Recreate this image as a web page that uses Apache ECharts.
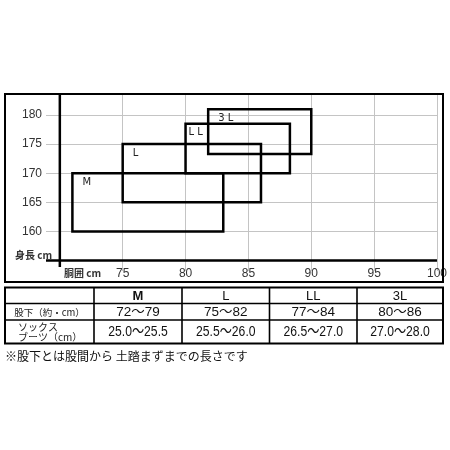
<!DOCTYPE html>
<html><head><meta charset="utf-8">
<script src="https://cdn.jsdelivr.net/npm/echarts@6/dist/echarts.min.js"></script>
<style>html,body{margin:0;padding:0;background:#fff}#c{width:450px;height:450px}</style>
</head><body><div id="c"></div>
<script>
// ---- data ----
const sizes = ['M', 'L', 'LL', '3L'];
const rectLabels = ['M', 'L', 'L L', '3 L'];
const waistMin = [71, 75, 80, 81.8];
const waistMax = [83, 86, 88.3, 90];
const heightMin = [160, 165, 170, 173.3];
const heightMax = [170, 175, 178.5, 181];
const xTicks = [75, 80, 85, 90, 95, 100];
const yTicks = [160, 165, 170, 175, 180];
const rowLabels = ['股下（約・cm）', 'ソックス\nブーツ（cm）'];
const inseam = ['72〜79', '75〜82', '77〜84', '80〜86'];
const socks = ['25.0〜25.5', '25.5〜26.0', '26.5〜27.0', '27.0〜28.0'];
const note = '※股下とは股間から 土踏まずまでの長さです';
const xAxisName = '胴囲 cm';
const yAxisName = '身長 cm';
// axis extents
const xMin = 68.9, xMax = 100, xOrigin = 70;
const yMin = 153.9, yMax = 183.55, yOrigin = 155;

const chart = echarts.init(document.getElementById('c'));
const rectData = sizes.map((s, i) => [waistMin[i], waistMax[i], heightMin[i], heightMax[i], rectLabels[i]]);
const labelDx = {2: 3};

// ---- table graphic ----
const tX = [5, 94, 182, 269.5, 357, 443];
const tY = [287.5, 303.5, 320, 343.5];
const g = [];
const font = '"Liberation Sans", Arial, "Noto Sans CJK JP", sans-serif';
g.push({type: 'rect', shape: {x: 5, y: 94, width: 438, height: 188}, style: {fill: 'none', stroke: '#000', lineWidth: 2}, z: 100});
g.push({type: 'rect', shape: {x: tX[0], y: tY[0], width: tX[5] - tX[0], height: tY[3] - tY[0]}, style: {fill: 'none', stroke: '#000', lineWidth: 2}});
for (let i = 1; i < 5; i++) g.push({type: 'line', shape: {x1: tX[i], y1: tY[0], x2: tX[i], y2: tY[3]}, style: {stroke: '#000', lineWidth: 1.6}});
for (let j = 1; j < 3; j++) g.push({type: 'line', shape: {x1: tX[0], y1: tY[j], x2: tX[5], y2: tY[j]}, style: {stroke: '#000', lineWidth: 1.6}});
sizes.forEach((s, i) => {
  const cx = (tX[i + 1] + tX[i + 2]) / 2;
  g.push({type: 'text', x: cx, y: (tY[0] + tY[1]) / 2 + 0.5, style: {text: s, font: (i === 0 ? 'bold ' : '') + '13px ' + font, fill: '#111', align: 'center', verticalAlign: 'middle'}});
  g.push({type: 'text', x: cx, y: (tY[1] + tY[2]) / 2 + 0.5, style: {text: inseam[i], font: '13.5px ' + font, fill: '#111', align: 'center', verticalAlign: 'middle'}});
  g.push({type: 'text', x: cx, y: (tY[2] + tY[3]) / 2 + 0.5, scaleX: 0.84, style: {text: socks[i], font: '14.5px ' + font, fill: '#111', align: 'center', verticalAlign: 'middle'}});
});
g.push({type: 'text', x: (tX[0] + tX[1]) / 2, y: (tY[1] + tY[2]) / 2 + 0.5, style: {text: rowLabels[0], font: '9.5px "Noto Sans CJK JP", sans-serif', fill: '#222', align: 'center', verticalAlign: 'middle'}});
g.push({type: 'text', x: 18, y: (tY[2] + tY[3]) / 2 + 0.5, style: {text: rowLabels[1], font: '10px "Noto Sans CJK JP", sans-serif', lineHeight: 10.5, fill: '#222', align: 'left', verticalAlign: 'middle'}});
g.push({type: 'text', x: 5, y: 356, style: {text: note, font: '12px "Noto Sans CJK JP", sans-serif', fill: '#111', align: 'left', verticalAlign: 'middle'}});
g.push({type: 'text', x: 15, y: 255, style: {text: yAxisName, font: 'bold 10px "Noto Sans CJK JP", sans-serif', fill: '#333', align: 'left', verticalAlign: 'middle'}});
g.push({type: 'text', x: 64, y: 273, style: {text: xAxisName, font: 'bold 10px "Noto Sans CJK JP", sans-serif', fill: '#333', align: 'left', verticalAlign: 'middle'}});

chart.setOption({
  animation: false,
  grid: {left: 46, right: 8, top: 94.3, bottom: 183},
  xAxis: {
    type: 'value', min: xMin, max: xMax,
    axisLine: {show: false},
    axisTick: {show: true, customValues: xTicks, length: 4, lineStyle: {color: '#c4c4c4'}},
    axisLabel: {customValues: xTicks, margin: 1, fontSize: 12, color: '#333', fontFamily: font},
    splitLine: {show: true, lineStyle: {color: '#c4c4c4', width: 1}}
  },
  yAxis: {
    type: 'value', min: yMin, max: yMax,
    axisLine: {show: false},
    axisTick: {show: false, customValues: yTicks},
    axisLabel: {customValues: yTicks, margin: 4, fontSize: 12, color: '#333', fontFamily: font},
    splitLine: {show: true, lineStyle: {color: '#c4c4c4', width: 1}}
  },
  graphic: g,
  series: [
    {type: 'line', data: [[xMin, yOrigin], [xMax, yOrigin]], symbol: 'none', silent: true, lineStyle: {color: '#000', width: 2.5}, z: 5},
    {type: 'line', data: [[xOrigin, yMin], [xOrigin, yMax]], symbol: 'none', silent: true, lineStyle: {color: '#000', width: 2.5}, z: 5},
    {
      type: 'custom', data: rectData, silent: true, z: 6,
      renderItem: function (params, api) {
        const p0 = api.coord([api.value(0), api.value(3)]);
        const p1 = api.coord([api.value(1), api.value(2)]);
        const dx = labelDx[params.dataIndex] !== undefined ? labelDx[params.dataIndex] : 10;
        return {type: 'group', children: [
          {type: 'rect', shape: {x: p0[0], y: p0[1], width: p1[0] - p0[0], height: p1[1] - p0[1]}, style: {fill: 'none', stroke: '#000', lineWidth: 2.5}},
          {type: 'text', x: p0[0] + dx, y: p0[1] + 9, style: {text: rectLabels[params.dataIndex], font: '10px "DejaVu Sans", sans-serif', fill: '#222', align: 'left', verticalAlign: 'middle'}}
        ]};
      }
    }
  ]
});
</script></body></html>
